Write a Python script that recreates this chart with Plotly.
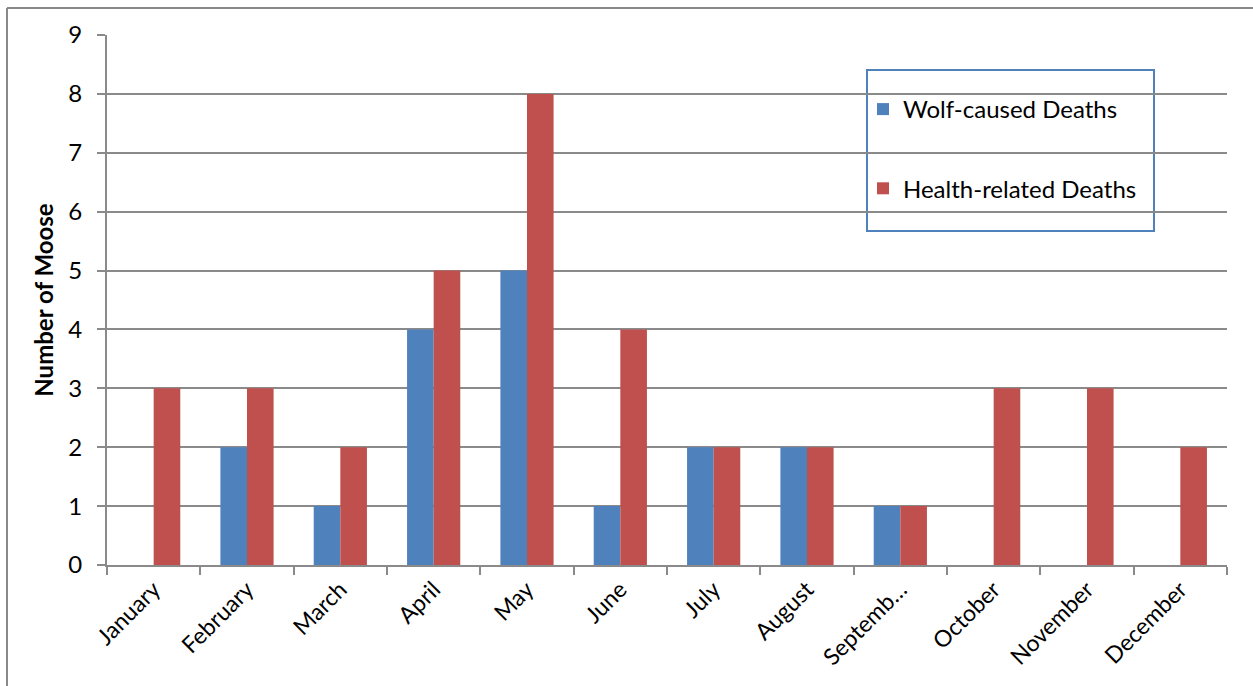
import plotly.graph_objects as go

months = ["January", "February", "March", "April", "May", "June", "July",
          "August", "Septemb…", "October", "November", "December"]
wolf_deaths = [0, 2, 1, 4, 5, 1, 2, 2, 1, 0, 0, 0]
health_deaths = [3, 3, 2, 5, 8, 4, 2, 2, 1, 3, 3, 2]

BLUE = "#4F81BD"
RED = "#C0504D"
GRID = "#8A8A8A"
FONT = "Lato"

W, H = 1253, 686
L, R, T, B = 107, 26, 35, 121
pw, ph = W - L - R, H - T - B


def px(x):
    return (x - L) / pw


def py(y):
    return (H - B - y) / ph


fig = go.Figure()
fig.add_trace(go.Bar(x=months, y=wolf_deaths, name="Wolf-caused Deaths",
                     marker=dict(color=BLUE, line=dict(width=0)),
                     legendgroup="wolf"))
fig.add_trace(go.Bar(x=months, y=health_deaths, name="Health-related Deaths",
                     marker=dict(color=RED, line=dict(width=0)),
                     legendgroup="health"))

shapes = [
    # chart frame (top and left edges)
    dict(type="line", xref="paper", yref="paper", x0=px(7), x1=px(W + 5),
         y0=py(8), y1=py(8), line=dict(color="#888888", width=2)),
    dict(type="line", xref="paper", yref="paper", x0=px(7), x1=px(7),
         y0=py(8), y1=py(H + 5), line=dict(color="#888888", width=2)),
    # legend frame
    dict(type="rect", xref="paper", yref="paper", x0=px(867), x1=px(1154),
         y0=py(70), y1=py(231), line=dict(color=BLUE, width=2),
         fillcolor="rgba(255,255,255,1)", layer="below"),
]

fig.update_layout(
    width=W, height=H,
    margin=dict(l=L, r=R, t=T, b=B),
    paper_bgcolor="white", plot_bgcolor="rgba(0,0,0,0)",
    barmode="group", bargap=0.43, bargroupgap=0,
    font=dict(family=FONT, size=23, color="black"),
    showlegend=True,
    legend=dict(x=px(863), y=py(87), xanchor="left", yanchor="top",
                bgcolor="rgba(0,0,0,0)", borderwidth=0,
                tracegroupgap=45, traceorder="grouped",
                font=dict(family=FONT, size=24, color="black")),
    xaxis=dict(type="category", tickangle=-45, tickson="boundaries",
               ticks="outside", ticklen=8, tickcolor=GRID, tickwidth=2,
               showline=True, linecolor=GRID, linewidth=2,
               showgrid=False, tickfont=dict(size=23)),
    yaxis=dict(range=[0, 9], dtick=1, tick0=0, ticks="outside", ticklen=8,
               tickcolor=GRID, tickwidth=2, showline=True, linecolor=GRID,
               linewidth=2, showgrid=True, gridcolor=GRID, gridwidth=2,
               zeroline=False, tickfont=dict(size=24), ticklabelstandoff=10,
               title=dict(text="<b>Number of Moose</b>", standoff=8,
                          font=dict(size=24))),
    shapes=shapes,
)

fig.write_html("out.html")
